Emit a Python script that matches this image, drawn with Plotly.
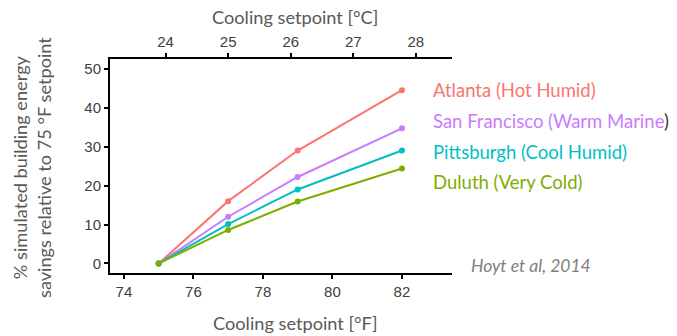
import plotly.graph_objects as go

setpoint_f = [75, 77, 79, 82]
cities = ["Atlanta (Hot Humid)", "San Francisco (Warm Marine)", "Pittsburgh (Cool Humid)", "Duluth (Very Cold)"]
atlanta = [0, 16, 29, 44.5]
san_francisco = [0, 12, 22.2, 34.7]
pittsburgh = [0, 10.1, 19, 29]
duluth = [0, 8.6, 15.9, 24.4]
series = [atlanta, san_francisco, pittsburgh, duluth]
colors = ["#F8766D", "#C77CFF", "#00BFC4", "#7CAE00"]
f_ticks = [74, 76, 78, 80, 82]
c_ticks = [24, 25, 26, 27, 28]
y_ticks = [0, 10, 20, 30, 40, 50]

W, H = 677, 336
L, R, T, B = 110, 452, 59, 273
xr = [73.6, 83.44]
yr = [-2.45, 52.5]

fig = go.Figure()
for vals, col in zip(series, colors):
    fig.add_trace(go.Scatter(x=setpoint_f, y=vals, mode="lines+markers",
                             line=dict(color=col, width=2),
                             marker=dict(color=col, size=6),
                             showlegend=False, hoverinfo="skip"))
# dummy trace for top axis
fig.add_trace(go.Scatter(x=[(v - 32) / 1.8 for v in xr], y=[None, None], xaxis="x2",
                         mode="markers", showlegend=False, hoverinfo="skip"))

tickfont = dict(family="Liberation Sans, Arial", size=15, color="#404040")
fig.update_layout(
    width=W, height=H,
    margin=dict(l=L, r=W - R, t=T, b=H - B),
    paper_bgcolor="white", plot_bgcolor="white",
    xaxis=dict(range=xr, tickvals=f_ticks, showgrid=False, zeroline=False,
               showline=True, linecolor="black", linewidth=2,
               ticks="outside", ticklen=4, tickwidth=1.5, tickcolor="black",
               tickfont=tickfont),
    xaxis2=dict(range=[(v - 32) / 1.8 for v in xr], tickvals=c_ticks, overlaying="x", side="top",
                showgrid=False, zeroline=False, anchor="y",
                showline=True, linecolor="black", linewidth=2,
                ticks="outside", ticklen=4, tickwidth=1.5, tickcolor="black",
                tickfont=tickfont),
    yaxis=dict(range=yr, tickvals=y_ticks, showgrid=False, zeroline=False,
               showline=True, linecolor="black", linewidth=2,
               ticks="outside", ticklen=4, tickwidth=1.5, tickcolor="black",
               tickfont=tickfont),
)

def px(x):
    return (x - L) / (R - L)

def py(y):
    return (B - y) / (B - T)

titlefont = dict(family="Lato", size=18.2, color="#595959")
fig.add_annotation(text="% simulated building energy<br>savings relative to 75 °F setpoint",
                   xref="paper", yref="paper", x=px(32), y=py(168), textangle=-90,
                   showarrow=False, font=titlefont, xanchor="center", yanchor="middle")
fig.add_annotation(text="Cooling setpoint [°C]", xref="paper", yref="paper",
                   x=px(295), y=py(17), showarrow=False, font=titlefont,
                   xanchor="center", yanchor="middle")
fig.add_annotation(text="Cooling setpoint [°F]", xref="paper", yref="paper",
                   x=px(295), y=py(323), showarrow=False, font=titlefont,
                   xanchor="center", yanchor="middle")
fig.add_annotation(text="<i>Hoyt et al, 2014</i>", xref="paper", yref="paper",
                   x=px(469), y=py(265), showarrow=False,
                   font=dict(family="Lato", size=17.5, color="#808080"),
                   xanchor="left", yanchor="middle")

label_y = [90, 121.5, 152, 181.5]
for name, col, ly in zip(cities, colors, label_y):
    txt = name
    if name.startswith("San Francisco"):
        txt = name[:-1] + "<span style='color:#333333'>)</span>"
    fig.add_annotation(text=txt, xref="paper", yref="paper", x=px(431), y=py(ly),
                       showarrow=False, font=dict(family="Lato", size=18.5, color=col),
                       xanchor="left", yanchor="middle")

fig.write_html("out.html", config={"displayModeBar": False},
               post_script="document.body.style.margin='0';")
